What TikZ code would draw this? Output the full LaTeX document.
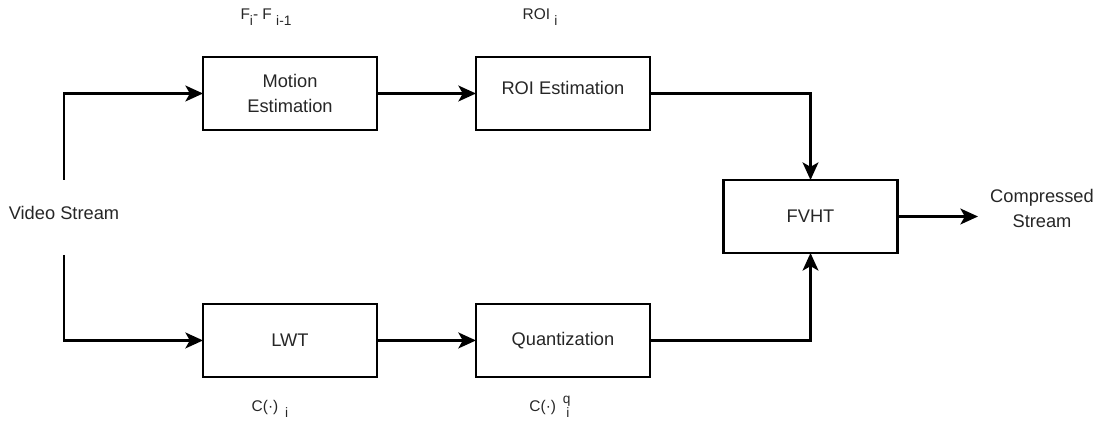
\documentclass[tikz,border=0pt]{standalone}
\usepackage{fontspec}
\setmainfont{Liberation Sans}
\usepackage{tikz}
\usetikzlibrary{positioning}
\usetikzlibrary{arrows.meta}

\newcommand{\lowidx}[1]{\raisebox{-0.75ex}{\fontsize{7.8}{8}\selectfont #1}}
\newcommand{\highidx}[1]{\raisebox{0.9ex}{\fontsize{7.8}{8}\selectfont #1}}

\tikzset{
  block/.style={draw=black, line width=1.5pt, minimum width=3.48cm, minimum height=1.46cm,
    align=center, outer sep=0pt, font=\fontsize{10.4}{14.2}\selectfont, text=black!85},
  arr/.style={line width=1.5pt, -{Stealth[length=10pt, width=9pt, inset=2.5pt]}},
  lbl/.style={font=\fontsize{8.8}{10}\selectfont, text=black!85, inner sep=0pt},
}

\begin{document}
\begin{tikzpicture}[x=0.02cm,y=-0.02cm]
        \useasboundingbox (0,0) rectangle (1101,425);
        % Nodes
        \node[block] (motion) at (290,93.5) {Motion\\Estimation};
        \node[block, right=1.98cm of motion] (roi) {\raisebox{2.3pt}[0.7em][0.2em]{ROI Estimation}};
        \node[block, below=3.48cm of motion] (lwt) {LWT};
        \node[block, right=1.98cm of lwt] (quant) {Quantization};
        \node[block] (fvht) at (810.5,216.5) {FVHT};

        \node[font=\fontsize{10.4}{12.5}\selectfont, text=black!85] (video) at (64,213) {Video Stream};
        \node[font=\fontsize{10.4}{14.2}\selectfont, text=black!85, align=center, anchor=west] (out) at (984,208) {Compressed\\Stream};
        \coordinate (vtop) at (64,180);
        \coordinate (vbot) at (64,255);
        \coordinate (tip) at (978,216.5);

        % Labels
        \node[lbl] (fdiff) at (266,17) {F\lowidx{i}- F \lowidx{i-1}};
        \node[lbl] (roii) at (540,17) {ROI \lowidx{i}};
        \node[lbl] (ci) at (270,409) {C(·) \,\lowidx{i}};
        \node[lbl] (cqi) at (550,407) {C(·) \,\highidx{q}\llap{\lowidx{i}\kern0.6pt}};

        % Edges
        \draw[arr] (vtop) |- (motion.west);
        \draw[arr] (vbot) |- (lwt.west);
        \draw[arr] (motion) -- (roi);
        \draw[arr] (lwt) -- (quant);
        \draw[arr] (roi.east) -| (fvht.north);
        \draw[arr] (quant.east) -| (fvht.south);
        \draw[arr] (fvht.east) -- (tip);
\end{tikzpicture}
\end{document}
